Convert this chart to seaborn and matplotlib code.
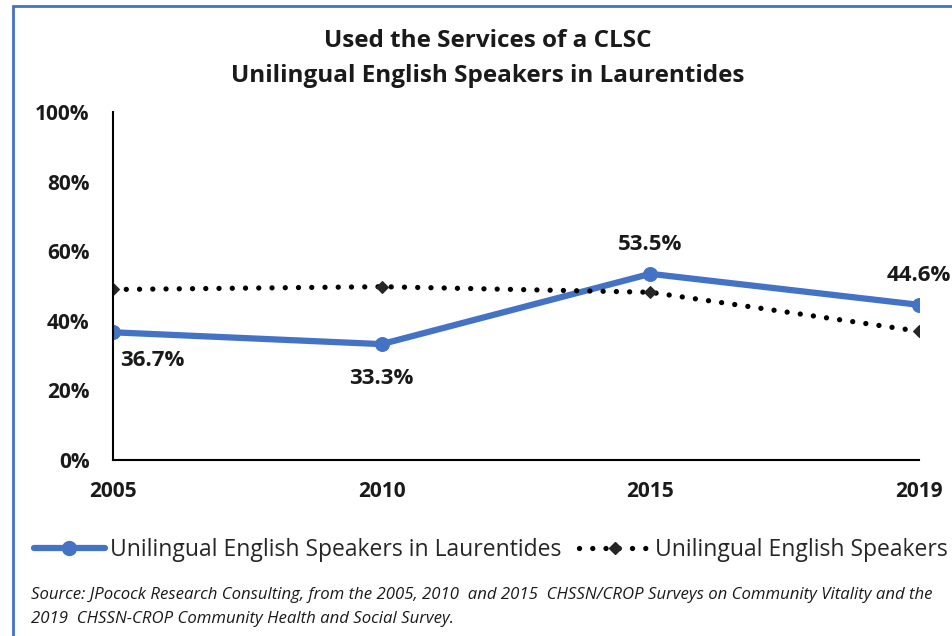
import numpy as np
import pandas as pd
import seaborn as sns
import matplotlib.pyplot as plt
from matplotlib.patches import Rectangle

# data
years = ["2005", "2010", "2015", "2019"]
laurentides = [36.7, 33.3, 53.5, 44.6]
all_unilingual = [49.0, 49.8, 48.2, 37.0]
series_names = ["Unilingual English Speakers in Laurentides", "Unilingual English Speakers"]

df = pd.DataFrame({
    "Year": years * 2,
    "Share": laurentides + all_unilingual,
    "Series": [series_names[0]] * 4 + [series_names[1]] * 4,
})

blue = "#4472C4"
dot_style = (0, (0.01, 2.5))

sns.set_style("white")
plt.rcParams["font.family"] = ["Open Sans", "DejaVu Sans"]

fig = plt.figure(figsize=(9.53, 6.36), dpi=100)
ax = fig.add_axes([0.1186, 0.2767, 0.8457, 0.5472])

sns.lineplot(
    data=df, x="Year", y="Share", hue="Series", style="Series",
    palette=[blue, "black"],
    dashes={series_names[0]: "", series_names[1]: (0.01, 2.5)},
    markers={series_names[0]: "o", series_names[1]: "D"},
    sort=False, ax=ax, legend=False,
)
lines = ax.get_lines()
lines[0].set_linewidth(4.5)
lines[0].set_markersize(10)
lines[0].set_markeredgecolor(blue)
lines[0].set_solid_capstyle("round")
lines[1].set_linewidth(3.8)
lines[1].set_dash_capstyle("round")
lines[1].set_markersize(6)
lines[1].set_markerfacecolor("#262626")
lines[1].set_markeredgecolor("#262626")

# value labels for the Laurentides series
offsets = [(28, -20), (0, -25), (0, 21), (0, 21)]
for i, (yr, v) in enumerate(zip(years, laurentides)):
    ax.annotate(f"{v:.1f}%", (i, v), xytext=offsets[i], textcoords="offset points",
                ha="center", va="center", fontsize=16, fontweight="bold", color="#1a1a1a")

ax.set_xlim(0, len(years) - 1)
ax.set_ylim(0, 100)
ax.set_yticks(np.arange(0, 101, 20))
ax.set_yticklabels([f"{t}%" for t in range(0, 101, 20)])
ax.set_xlabel("")
ax.set_ylabel("")
for side in ["top", "right"]:
    ax.spines[side].set_visible(False)
for side in ["left", "bottom"]:
    ax.spines[side].set_color("black")
    ax.spines[side].set_linewidth(1.5)
ax.tick_params(axis="x", direction="out", length=7, width=1.5, color="black", pad=8)
ax.tick_params(axis="y", length=0, pad=17)
for lab in ax.get_xticklabels() + ax.get_yticklabels():
    lab.set_fontsize(15)
    lab.set_fontweight("bold")
    lab.set_color("#1a1a1a")

fig.text(0.512, 0.935, "Used the Services of a CLSC", ha="center", va="center",
         fontsize=17.5, fontweight="bold", color="#1a1a1a")
fig.text(0.512, 0.88, "Unilingual English Speakers in Laurentides", ha="center", va="center",
         fontsize=17.5, fontweight="bold", color="#1a1a1a")

handles = [
    plt.Line2D([], [], color=blue, lw=4.5, marker="o", markersize=10),
    plt.Line2D([], [], color="black", lw=3.8, ls=dot_style, dash_capstyle="round",
               marker="D", markersize=6, markerfacecolor="#262626", markeredgecolor="#262626"),
]
fig.legend(handles, series_names, loc="center", bbox_to_anchor=(0.515, 0.135), ncol=2,
           frameon=False, fontsize=16.5, handlelength=3.1, columnspacing=0.8, handletextpad=0.2,
           labelcolor="#262626")

fig.text(0.033, 0.065, "Source: JPocock Research Consulting, from the 2005, 2010  and 2015  CHSSN/CROP Surveys on Community Vitality and the",
         fontsize=12.1, style="italic", color="#1a1a1a", va="center")
fig.text(0.033, 0.026, "2019  CHSSN-CROP Community Health and Social Survey.",
         fontsize=12.1, style="italic", color="#1a1a1a", va="center")

# blue chart border (right and bottom edges run off the picture)
fig.patches.append(Rectangle((0.0135, -0.05), 1.2, 1.04, transform=fig.transFigure,
                             fill=False, edgecolor=blue, linewidth=2))

fig.set_facecolor("white")
plt.savefig("out.png", dpi=100)
plt.close()
